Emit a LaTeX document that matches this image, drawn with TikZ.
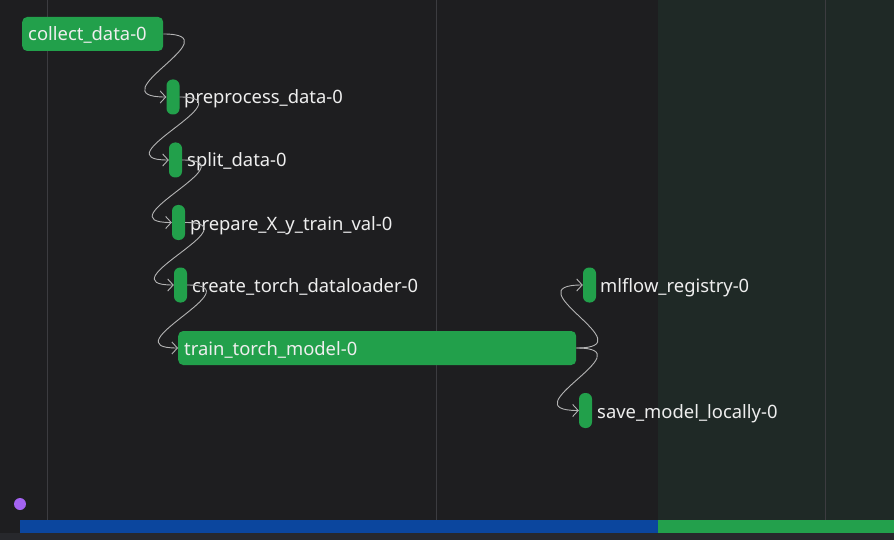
\documentclass[tikz,border=0pt]{standalone}
\usepackage{fontspec}
\setmainfont{Noto Sans}
\usetikzlibrary{arrows.meta}
\definecolor{bg}{HTML}{1E1E20}
\definecolor{panel}{HTML}{1F2926}
\definecolor{gridc}{HTML}{3C3C40}
\definecolor{nodeg}{HTML}{22A04B}
\definecolor{txt}{HTML}{EEEEEE}
\definecolor{connc}{HTML}{B4B4B4}
\definecolor{barblue}{HTML}{0B469E}
\definecolor{bargreen}{HTML}{23A04C}
\definecolor{strip}{HTML}{27282C}
\definecolor{dotc}{HTML}{A463F2}
\begin{document}
\begin{tikzpicture}[x=1pt,y=-1pt,
  gridline/.style={draw=gridc, line width=1pt},
  bigbox/.style={fill=nodeg, rounded corners=5pt, minimum height=34pt, inner sep=0pt, anchor=west},
  pill/.style={fill=nodeg, rounded corners=6pt, minimum width=13pt, minimum height=35pt, inner sep=0pt},
  lbl/.style={anchor=base west, inner sep=0pt, text=txt, font=\fontsize{18.4}{20}\selectfont},
  conn/.style={draw=connc, line width=0.9pt, -{Straight Barb[length=5.5pt,width=12pt]}}
]
\useasboundingbox (0,0) rectangle (894,540);
\fill[bg] (0,0) rectangle (894,540);
\fill[panel] (658,0) rectangle (894,520);
\draw[gridline] (47,0) -- (47,520);
\draw[gridline] (436,0) -- (436,520);
\draw[gridline] (825,0) -- (825,520);
\fill[barblue] (20,520) rectangle (658,533);
\fill[bargreen] (658,520) rectangle (894,533);
\fill[strip] (0,533) rectangle (894,540);
\fill[dotc] (20,504) circle (6pt);

% nodes
\node[bigbox, minimum width=141pt] (collect) at (22,34) {};
\node[lbl] (collectl) at (28,41) {collect\_data-0};
\node[pill] (pre) at (173,97) {};
\node[lbl] (prel) at (184,104) {preprocess\_data-0};
\node[pill] (split) at (175.5,160) {};
\node[lbl] (splitl) at (187,167) {split\_data-0};
\node[pill] (prep) at (178.5,222.5) {};
\node[lbl] (prepl) at (190,230) {prepare\_X\_y\_train\_val-0};
\node[pill] (create) at (180.5,285) {};
\node[lbl] (createl) at (192,292) {create\_torch\_dataloader-0};
\node[bigbox, minimum width=398pt] (train) at (178,348) {};
\node[lbl] (trainl) at (184,355) {train\_torch\_model-0};
\node[pill] (mlflow) at (589.5,285) {};
\node[lbl] (mlflowl) at (600,292.5) {mlflow\_registry-0};
\node[pill] (save) at (585.5,410.5) {};
\node[lbl] (savel) at (597,418) {save\_model\_locally-0};

% connectors
\draw[conn] (collect.east) .. controls +(72,0) and +(-72,0) .. (pre.west);
\draw[conn] (pre.east) .. controls +(70,0) and +(-70,0) .. (split.west);
\draw[conn] (split.east) .. controls +(70,0) and +(-70,0) .. (prep.west);
\draw[conn] (prep.east) .. controls +(70,0) and +(-70,0) .. (create.west);
\draw[conn] (create.east) .. controls +(70,0) and +(-70,0) .. (train.west);
\draw[conn] (train.east) .. controls +(72,0) and +(-72,0) .. (mlflow.west);
\draw[conn] (train.east) .. controls +(72,0) and +(-72,0) .. (save.west);
\end{tikzpicture}
\end{document}
